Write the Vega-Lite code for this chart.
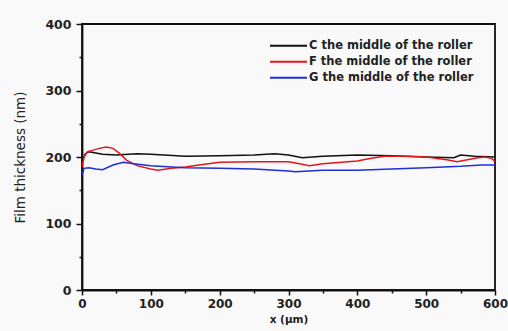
{
  "$schema": "https://vega.github.io/schema/vega-lite/v6.json",
  "width": 413,
  "height": 266,
  "autosize": {"type": "none"},
  "padding": {"left": 82, "top": 24, "right": 13, "bottom": 41},
  "background": "#f9f9f9",
  "config": {
    "view": {"stroke": "#111", "strokeWidth": 1.8},
    "font": "DejaVu Sans"
  },
  "data": {
    "values": [
      {"x": 0, "y": 195, "s": "C the middle of the roller"},
      {"x": 5, "y": 205, "s": "C the middle of the roller"},
      {"x": 10, "y": 208, "s": "C the middle of the roller"},
      {"x": 20, "y": 206, "s": "C the middle of the roller"},
      {"x": 30, "y": 204, "s": "C the middle of the roller"},
      {"x": 50, "y": 203, "s": "C the middle of the roller"},
      {"x": 80, "y": 205, "s": "C the middle of the roller"},
      {"x": 100, "y": 204, "s": "C the middle of the roller"},
      {"x": 150, "y": 201, "s": "C the middle of the roller"},
      {"x": 200, "y": 202, "s": "C the middle of the roller"},
      {"x": 250, "y": 203, "s": "C the middle of the roller"},
      {"x": 280, "y": 205, "s": "C the middle of the roller"},
      {"x": 300, "y": 203, "s": "C the middle of the roller"},
      {"x": 320, "y": 199, "s": "C the middle of the roller"},
      {"x": 350, "y": 201, "s": "C the middle of the roller"},
      {"x": 400, "y": 203, "s": "C the middle of the roller"},
      {"x": 450, "y": 202, "s": "C the middle of the roller"},
      {"x": 500, "y": 200, "s": "C the middle of the roller"},
      {"x": 540, "y": 199, "s": "C the middle of the roller"},
      {"x": 550, "y": 203, "s": "C the middle of the roller"},
      {"x": 570, "y": 201, "s": "C the middle of the roller"},
      {"x": 600, "y": 200, "s": "C the middle of the roller"},
      {"x": 0, "y": 185, "s": "F  the middle of the roller"},
      {"x": 3, "y": 200, "s": "F  the middle of the roller"},
      {"x": 8, "y": 208, "s": "F  the middle of the roller"},
      {"x": 15, "y": 210, "s": "F  the middle of the roller"},
      {"x": 25, "y": 213, "s": "F  the middle of the roller"},
      {"x": 35, "y": 215, "s": "F  the middle of the roller"},
      {"x": 45, "y": 213, "s": "F  the middle of the roller"},
      {"x": 55, "y": 205, "s": "F  the middle of the roller"},
      {"x": 65, "y": 195, "s": "F  the middle of the roller"},
      {"x": 80, "y": 187, "s": "F  the middle of the roller"},
      {"x": 100, "y": 182, "s": "F  the middle of the roller"},
      {"x": 110, "y": 180, "s": "F  the middle of the roller"},
      {"x": 130, "y": 183, "s": "F  the middle of the roller"},
      {"x": 150, "y": 185, "s": "F  the middle of the roller"},
      {"x": 170, "y": 188, "s": "F  the middle of the roller"},
      {"x": 200, "y": 192, "s": "F  the middle of the roller"},
      {"x": 250, "y": 193, "s": "F  the middle of the roller"},
      {"x": 300, "y": 193, "s": "F  the middle of the roller"},
      {"x": 320, "y": 189, "s": "F  the middle of the roller"},
      {"x": 330, "y": 187, "s": "F  the middle of the roller"},
      {"x": 350, "y": 190, "s": "F  the middle of the roller"},
      {"x": 400, "y": 194, "s": "F  the middle of the roller"},
      {"x": 420, "y": 198, "s": "F  the middle of the roller"},
      {"x": 440, "y": 201, "s": "F  the middle of the roller"},
      {"x": 470, "y": 201, "s": "F  the middle of the roller"},
      {"x": 500, "y": 200, "s": "F  the middle of the roller"},
      {"x": 530, "y": 196, "s": "F  the middle of the roller"},
      {"x": 545, "y": 193, "s": "F  the middle of the roller"},
      {"x": 560, "y": 196, "s": "F  the middle of the roller"},
      {"x": 575, "y": 199, "s": "F  the middle of the roller"},
      {"x": 585, "y": 200, "s": "F  the middle of the roller"},
      {"x": 595, "y": 198, "s": "F  the middle of the roller"},
      {"x": 600, "y": 193, "s": "F  the middle of the roller"},
      {"x": 0, "y": 172, "s": "G the middle of the roller"},
      {"x": 3, "y": 183, "s": "G the middle of the roller"},
      {"x": 10, "y": 184, "s": "G the middle of the roller"},
      {"x": 20, "y": 182, "s": "G the middle of the roller"},
      {"x": 30, "y": 181, "s": "G the middle of the roller"},
      {"x": 45, "y": 188, "s": "G the middle of the roller"},
      {"x": 60, "y": 192, "s": "G the middle of the roller"},
      {"x": 75, "y": 190, "s": "G the middle of the roller"},
      {"x": 100, "y": 187, "s": "G the middle of the roller"},
      {"x": 130, "y": 185, "s": "G the middle of the roller"},
      {"x": 150, "y": 184, "s": "G the middle of the roller"},
      {"x": 200, "y": 183, "s": "G the middle of the roller"},
      {"x": 250, "y": 182, "s": "G the middle of the roller"},
      {"x": 300, "y": 179, "s": "G the middle of the roller"},
      {"x": 310, "y": 178, "s": "G the middle of the roller"},
      {"x": 350, "y": 180, "s": "G the middle of the roller"},
      {"x": 400, "y": 180, "s": "G the middle of the roller"},
      {"x": 450, "y": 182, "s": "G the middle of the roller"},
      {"x": 500, "y": 184, "s": "G the middle of the roller"},
      {"x": 550, "y": 186, "s": "G the middle of the roller"},
      {"x": 580, "y": 188, "s": "G the middle of the roller"},
      {"x": 600, "y": 188, "s": "G the middle of the roller"}
    ]
  },
  "mark": {"type": "line", "strokeWidth": 1.5, "clip": true},
  "encoding": {
    "x": {
      "field": "x", "type": "quantitative",
      "scale": {"domain": [0, 600], "nice": false},
      "axis": {
        "title": "x (μm)", "values": [0, 50, 100, 150, 200, 250, 300, 350, 400, 450, 500, 550, 600],
        "labelExpr": "datum.value % 100 === 0 ? datum.label : ''",
        "grid": false, "domainColor": "#111", "domainWidth": 1.8,
        "tickColor": "#111", "tickWidth": 1.5,
        "tickSize": {"condition": {"test": "datum.value % 100 === 0", "value": 5}, "value": 3},
        "labelFont": "DejaVu Sans", "labelFontWeight": "bold", "labelFontSize": 12, "labelColor": "#222",
        "labelPadding": 3, "labelFlush": false,
        "titleFont": "DejaVu Sans", "titleFontSize": 10.5, "titleFontWeight": "bold", "titleColor": "#222", "titlePadding": 5
      }
    },
    "y": {
      "field": "y", "type": "quantitative",
      "scale": {"domain": [0, 400], "nice": false},
      "axis": {
        "title": "Film thickness (nm)", "values": [0, 50, 100, 150, 200, 250, 300, 350, 400],
        "labelExpr": "datum.value % 100 === 0 ? datum.label : ''",
        "grid": false, "domainColor": "#111", "domainWidth": 1.8,
        "tickColor": "#111", "tickWidth": 1.5,
        "tickSize": {"condition": {"test": "datum.value % 100 === 0", "value": 6}, "value": 3},
        "labelFont": "DejaVu Sans", "labelFontWeight": "bold", "labelFontSize": 12.5, "labelColor": "#222",
        "labelPadding": 5,
        "titleFont": "DejaVu Sans", "titleFontSize": 13.5, "titleFontWeight": "normal", "titleColor": "#222", "titlePadding": 17
      }
    },
    "color": {
      "field": "s", "type": "nominal",
      "scale": {
        "domain": ["C the middle of the roller", "F  the middle of the roller", "G the middle of the roller"],
        "range": ["#111111", "#e3171c", "#1f2fd8"]
      },
      "legend": {
        "title": null, "orient": "none", "legendX": 187, "legendY": 14,
        "symbolType": "stroke", "symbolSize": 1369, "symbolStrokeWidth": 1.8,
        "clipHeight": 15.5, "rowPadding": 0,
        "labelFont": "DejaVu Sans", "labelFontWeight": "bold", "labelFontSize": 11.5, "labelColor": "#222",
        "labelOffset": 1, "labelLimit": 300
      }
    }
  }
}
